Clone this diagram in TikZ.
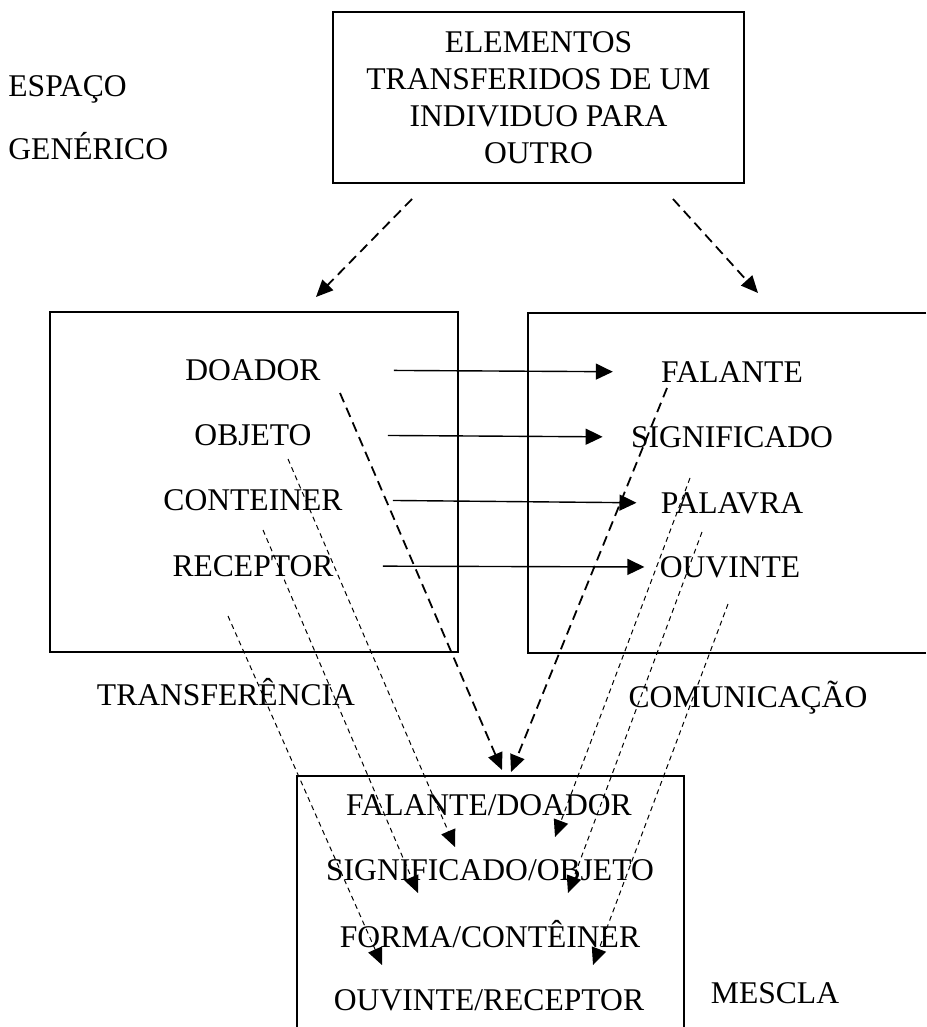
\documentclass[tikz,border=0pt]{standalone}
\usepackage{fontspec}
\setmainfont{Liberation Serif}
\usetikzlibrary{arrows.meta}

\tikzset{
  rotulo/.style={inner sep=0pt, text height=10.5pt, text depth=0pt, font=\fontsize{15.8}{18.5}\selectfont},
  caixa/.style={line width=1pt},
  seta/.style={line width=0.7pt, -{Triangle[length=8.5pt,width=8pt]}},
  tracejada/.style={line width=0.9pt, dash pattern=on 5pt off 3pt, -{Triangle[length=8.5pt,width=7.5pt]}},
  fina/.style={line width=0.5pt, dash pattern=on 2.5pt off 2pt, -{Triangle[length=8.5pt,width=7.5pt]}},
}

\begin{document}
\begin{tikzpicture}[x=0.5pt, y=-0.5pt]
    \useasboundingbox (0,0) rectangle (926,1027);
    %espaço genérico
    \node[caixa, draw, inner sep=0pt, minimum width=205.5pt, minimum height=85.5pt, align=center,
          font=\fontsize{15.8}{18.5}\selectfont] (generico) at (538.5,97.5)
          {ELEMENTOS\\TRANSFERIDOS DE UM\\INDIVIDUO PARA\\OUTRO};
    \node[rotulo, anchor=west] (espaco) at (8,86) {ESPAÇO};
    \node[rotulo, anchor=west] (generic) at (8,149) {GENÉRICO};
    %caixas
    \draw[caixa] (50,312) rectangle (458,652);
    \draw[caixa] (926,313) -- (528,313) -- (528,653) -- (926,653);
    \draw[caixa] (297,1027) -- (297,776) -- (684,776) -- (684,1027);
    %transferência
    \node[rotulo] (doador) at (253,370) {DOADOR};
    \node[rotulo] (objeto) at (253,435) {OBJETO};
    \node[rotulo] (conteiner) at (253,500) {CONTEINER};
    \node[rotulo] (receptor) at (253,566) {RECEPTOR};
    \node[rotulo] (transf) at (226,695) {TRANSFERÊNCIA};
    %comunicação
    \node[rotulo] (falante) at (732,372) {FALANTE};
    \node[rotulo] (significado) at (732,437) {SIGNIFICADO};
    \node[rotulo] (palavra) at (732,503) {PALAVRA};
    \node[rotulo] (ouvinte) at (730,567) {OUVINTE};
    \node[rotulo] (comunic) at (748,697) {COMUNICAÇÃO};
    %mescla
    \node[rotulo] (falantedoador) at (489,805) {FALANTE/DOADOR};
    \node[rotulo] (significadoobjeto) at (490,870) {SIGNIFICADO/OBJETO};
    \node[rotulo] (formaconteiner) at (490,937) {FORMA/CONTÊINER};
    \node[rotulo] (ouvintereceptor) at (489,1000) {OUVINTE/RECEPTOR};
    \node[rotulo] (mescla) at (775,993) {MESCLA};
    %pontas das setas tracejadas
    \coordinate (g1) at (412,199);
    \coordinate (g2) at (673,199);
    \coordinate (t1) at (316,297);
    \coordinate (t2) at (758,293);
    \coordinate (d1) at (340,393);
    \coordinate (d2) at (667,388);
    \coordinate (m1) at (502,770);
    \coordinate (m2) at (511,772);
    \coordinate (l1) at (288,459);
    \coordinate (l2) at (263,530);
    \coordinate (l3) at (228,616);
    \coordinate (r1) at (690,478);
    \coordinate (r2) at (702,532);
    \coordinate (r3) at (728,604);
    \coordinate (a1) at (455,847);
    \coordinate (a2) at (418,893);
    \coordinate (a3) at (382,965);
    \coordinate (b1) at (555,837);
    \coordinate (b2) at (568,893);
    \coordinate (b3) at (593,965);
    %projeções do espaço genérico
    \draw[tracejada] (g1) -- (t1);
    \draw[tracejada] (g2) -- (t2);
    %mapeamento entre os espaços
    \draw[seta, shorten <=36.5pt, shorten >=24pt] (doador.east) -- (falante.west);
    \draw[seta, shorten <=38pt, shorten >=14pt] (objeto.east) -- (significado.west);
    \draw[seta, shorten <=25pt, shorten >=12pt] (conteiner.east) -- (palavra.west);
    \draw[seta, shorten <=24.5pt, shorten >=7.5pt] (receptor.east) -- (ouvinte.west);
    %projeções para a mescla
    \draw[tracejada] (d1) -- (m1);
    \draw[tracejada] (d2) -- (m2);
    \draw[fina] (l1) -- (a1);
    \draw[fina] (l2) -- (a2);
    \draw[fina] (l3) -- (a3);
    \draw[fina] (r1) -- (b1);
    \draw[fina] (r2) -- (b2);
    \draw[fina] (r3) -- (b3);
\end{tikzpicture}
\end{document}
